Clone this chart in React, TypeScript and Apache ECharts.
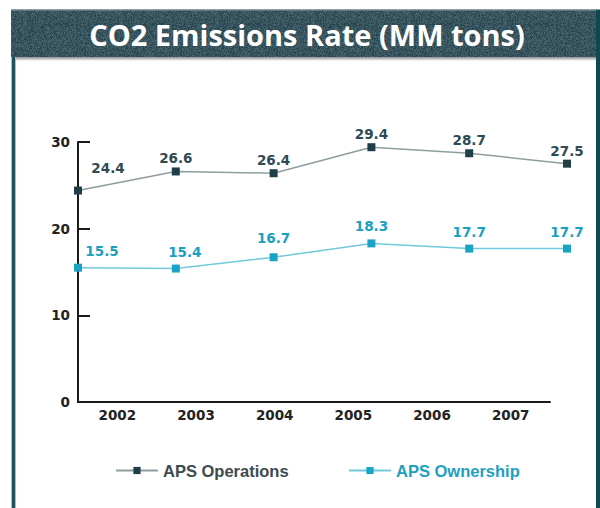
import React, { useEffect, useRef } from "react";
import * as echarts from "echarts";

const years = ["2002", "2003", "2004", "2005", "2006", "2007"];
const operations = [24.4, 26.6, 26.4, 29.4, 28.7, 27.5];
const ownership = [15.5, 15.4, 16.7, 18.3, 17.7, 17.7];
const yTicks = [0, 10, 20, 30];
const titleText = "CO2 Emissions Rate (MM tons)";
const seriesNames = ["APS Operations", "APS Ownership"];

function makeNoise(): string {
  const c = document.createElement("canvas");
  c.width = 96;
  c.height = 96;
  const ctx = c.getContext("2d");
  if (!ctx) return "";
  for (let y = 0; y < 96; y += 1) {
    for (let x = 0; x < 96; x += 1) {
      let h = (x * 374761393 + y * 668265263) | 0;
      h = ((h ^ (h >>> 13)) * 1274126177) | 0;
      h = h ^ (h >>> 16);
      const v = ((h >>> 0) % 1000) / 1000;
      const k = -22 + v * 40;
      const r = Math.max(0, Math.min(255, 58 + k));
      const g = Math.max(0, Math.min(255, 86 + k));
      const b = Math.max(0, Math.min(255, 96 + k));
      ctx.fillStyle = `rgb(${r | 0},${g | 0},${b | 0})`;
      ctx.fillRect(x, y, 1, 1);
    }
  }
  return c.toDataURL();
}

export default function App() {
  const ref = useRef<HTMLDivElement>(null);
  useEffect(() => {
    if (!ref.current) return;
    const chart = echarts.init(ref.current, null, { renderer: "svg" });
    const noise = makeNoise();
    const numFont = "DejaVu Sans";
    const opsLabelOffsets: any[] = [[30, -10], [0, 0], [0, 0], [0, 0], [0, 0], [0, 0]];
    const ownLabelOffsets: any[] = [[24, -4], [9, -4], [0, -6], [0, -4], [0, -4], [0, -4]];
    chart.setOption({
      animation: false,
      backgroundColor: "#ffffff",
      graphic: [
        { type: "rect", shape: { x: 11, y: 56, width: 586, height: 5 }, style: { fill: new echarts.graphic.LinearGradient(0, 0, 0, 1, [{ offset: 0, color: "#6f6f6f" }, { offset: 1, color: "#ffffff" }]) }, z: 1 },
        { type: "rect", shape: { x: 11, y: 10, width: 589, height: 47 }, style: { fill: "#3c5963" }, z: 2 },
        noise ? { type: "rect", shape: { x: 11, y: 10, width: 589, height: 47 }, style: { fill: { image: noise, repeat: "repeat" } as any }, z: 3 } : { type: "group" },
        { type: "rect", shape: { x: 11, y: 9, width: 589, height: 1.5 }, style: { fill: "#8c9ea3" }, z: 4 },
        { type: "rect", shape: { x: 11, y: 57, width: 5, height: 451 }, style: { fill: "#a9c2c6" }, z: 4 },
        { type: "rect", shape: { x: 12, y: 57, width: 3, height: 451 }, style: { fill: "#1d525c" }, z: 5 },
        { type: "rect", shape: { x: 596, y: 10, width: 4, height: 498 }, style: { fill: "#0f4852" }, z: 5 },
        {
          type: "text",
          x: 307,
          y: 34,
          z: 6,
          style: {
            text: titleText,
            fill: "#ffffff",
            font: "bold 29px 'Open Sans'",
            align: "center",
            verticalAlign: "middle",
          },
        },
      ],
      grid: [
        { left: 78, right: 50, top: 142, height: 260 },
        { left: 78, right: 33, top: 142, height: 260 },
      ],
      xAxis: [
        {
          type: "category",
          gridIndex: 0,
          data: years,
          boundaryGap: true,
          axisLine: { lineStyle: { color: "#1a1a1a", width: 2 } },
          axisTick: { inside: true, length: 6, lineStyle: { color: "#1a1a1a", width: 2 } },
          axisLabel: { color: "#222222", fontFamily: numFont, fontWeight: "bold", fontSize: 13.5, margin: 6 },
        },
        {
          type: "category",
          gridIndex: 1,
          data: years,
          boundaryGap: false,
          show: false,
        },
      ],
      yAxis: [
        {
          type: "value",
          gridIndex: 0,
          min: yTicks[0],
          max: yTicks[yTicks.length - 1],
          interval: 10,
          splitLine: { show: false },
          axisLine: { show: true, lineStyle: { color: "#1a1a1a", width: 2 } },
          axisTick: { show: true, inside: true, length: 12, lineStyle: { color: "#1a1a1a", width: 2 } },
          axisLabel: { color: "#222222", fontFamily: numFont, fontWeight: "bold", fontSize: 13.5, margin: 8 },
        },
        {
          type: "value",
          gridIndex: 1,
          min: yTicks[0],
          max: yTicks[yTicks.length - 1],
          interval: 10,
          show: false,
          splitLine: { show: false },
        },
      ],
      legend: [
        {
          data: [seriesNames[0]],
          left: 110,
          top: 457,
          itemWidth: 42,
          itemHeight: 9,
          textStyle: { color: "#3d4a50", fontFamily: "Liberation Sans", fontWeight: "bold", fontSize: 16.5 },
        },
        {
          data: [seriesNames[1]],
          left: 343,
          top: 457,
          itemWidth: 42,
          itemHeight: 9,
          textStyle: { color: "#1ea0bf", fontFamily: "Liberation Sans", fontWeight: "bold", fontSize: 16.5 },
        },
      ],
      series: [
        {
          name: seriesNames[0],
          type: "line",
          xAxisIndex: 1,
          yAxisIndex: 1,
          data: operations.map((v, i) => ({ value: v, label: { offset: opsLabelOffsets[i] } })),
          symbol: "rect",
          symbolSize: 8,
          itemStyle: { color: "#1f3f48" },
          lineStyle: { color: "#8f9da1", width: 1.5 },
          label: {
            show: true,
            position: "top",
            distance: 2,
            color: "#2e4a54",
            fontFamily: numFont,
            fontWeight: "bold",
            fontSize: 13.5,
            formatter: (p: any) => p.value.toFixed(1),
          },
        },
        {
          name: seriesNames[1],
          type: "line",
          xAxisIndex: 1,
          yAxisIndex: 1,
          data: ownership.map((v, i) => ({ value: v, label: { offset: ownLabelOffsets[i] } })),
          symbol: "rect",
          symbolSize: 8,
          itemStyle: { color: "#1aa3c5" },
          lineStyle: { color: "#72c9dc", width: 1.5 },
          label: {
            show: true,
            position: "top",
            distance: 2,
            color: "#1b9fc0",
            fontFamily: numFont,
            fontWeight: "bold",
            fontSize: 13.5,
            formatter: (p: any) => p.value.toFixed(1),
          },
        },
      ],
    });
    return () => chart.dispose();
  }, []);
  return (
    <div
      ref={ref}
      style={{ position: "fixed", left: 0, top: 0, width: 600, height: 508 }}
    />
  );
}
